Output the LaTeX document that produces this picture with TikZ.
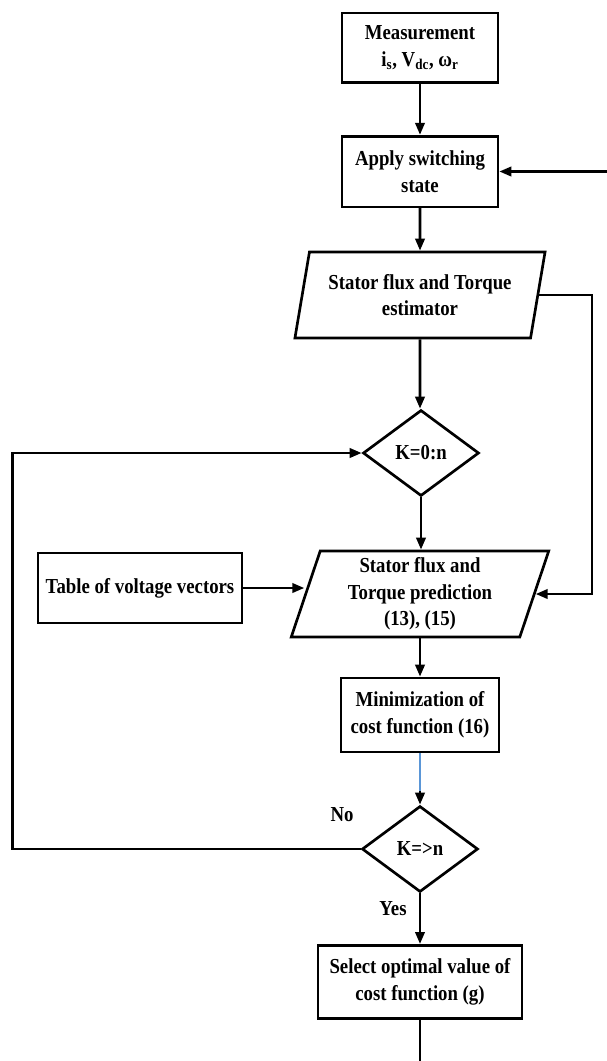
\documentclass[tikz,border=0pt]{standalone}
\usepackage{fontspec}
\setmainfont{Liberation Serif}[FakeStretch=0.88]
\usetikzlibrary{shapes.geometric,arrows.meta}
\definecolor{costblue}{RGB}{90,150,215}

\begin{document}
\begin{tikzpicture}[x=0.75pt,y=-0.75pt,line width=2pt,
  >={Triangle[length=9pt,width=7pt]},
  every node/.style={font=\fontsize{16}{20}\selectfont\bfseries,align=center},
  procbox/.style={draw,rectangle,inner sep=0pt},
  iobox/.style={draw,trapezium,trapezium left angle=74,trapezium right angle=106,
    trapezium stretches=true,minimum width=188pt,minimum height=64.5pt,inner sep=0pt},
  testbox/.style={draw,diamond,minimum width=87pt,minimum height=64.5pt,inner sep=0pt}]
  \useasboundingbox (0,0) rectangle (607,1061);
  % blocks
  \node[procbox,minimum width=117pt,minimum height=52pt] (meas) at (420,47.5)
    {Measurement\\i\textsubscript{s}, V\textsubscript{dc}, ω\textsubscript{r}};
  \node[procbox,minimum width=117pt,minimum height=53pt] (apply) at (420,171.5)
    {Apply switching\\state};
  \node[iobox] (estim) at (420,295) {Stator flux and Torque\\estimator};
  \node[testbox] (loopk) at (421,453) {K=0:n};
  \node[procbox,minimum width=153pt,minimum height=52.5pt] (table) at (140,588)
    {Table of voltage vectors};
  \node[iobox,minimum width=193.5pt] (pred) at (420,594)
    {Stator flux and\\Torque prediction\\(13), (15)};
  \node[procbox,minimum width=118.5pt,minimum height=55.5pt] (minim) at (420,715)
    {Minimization of\\cost function (16)};
  \node[testbox] (endk) at (420,849) {K=>n};
  \node[procbox,minimum width=153pt,minimum height=55pt] (select) at (420,982)
    {Select optimal value of\\cost function (g)};
  \coordinate (back) at (607,171.5);
  \coordinate (out) at (420,1061);
  % connectors
  \draw[->] (meas) -- (apply);
  \draw[->] (back) -- (apply);
  \draw[->] (apply) -- (estim);
  \draw[->] (estim) -- (estim |- loopk.north);
  \draw[->] (estim.east) -- ++(53,0) |- (pred.east);
  \draw[->] (loopk) -- (loopk |- pred.north);
  \draw[->] (table.east) -- (pred.west |- table.east);
  \draw[->] (pred) -- (minim);
  \draw[->] (minim) -- (endk);
  \draw[costblue,line width=0.8pt,shorten >=10pt] (minim) -- (endk);
  \draw[->] (endk.west) -- ++(-348,0) |- (loopk.west);
  \draw[->] (endk) -- (select);
  \draw (select) -- (out);
  \node at (342,815) {No};
  \node at (393,909) {Yes};
\end{tikzpicture}
\end{document}
